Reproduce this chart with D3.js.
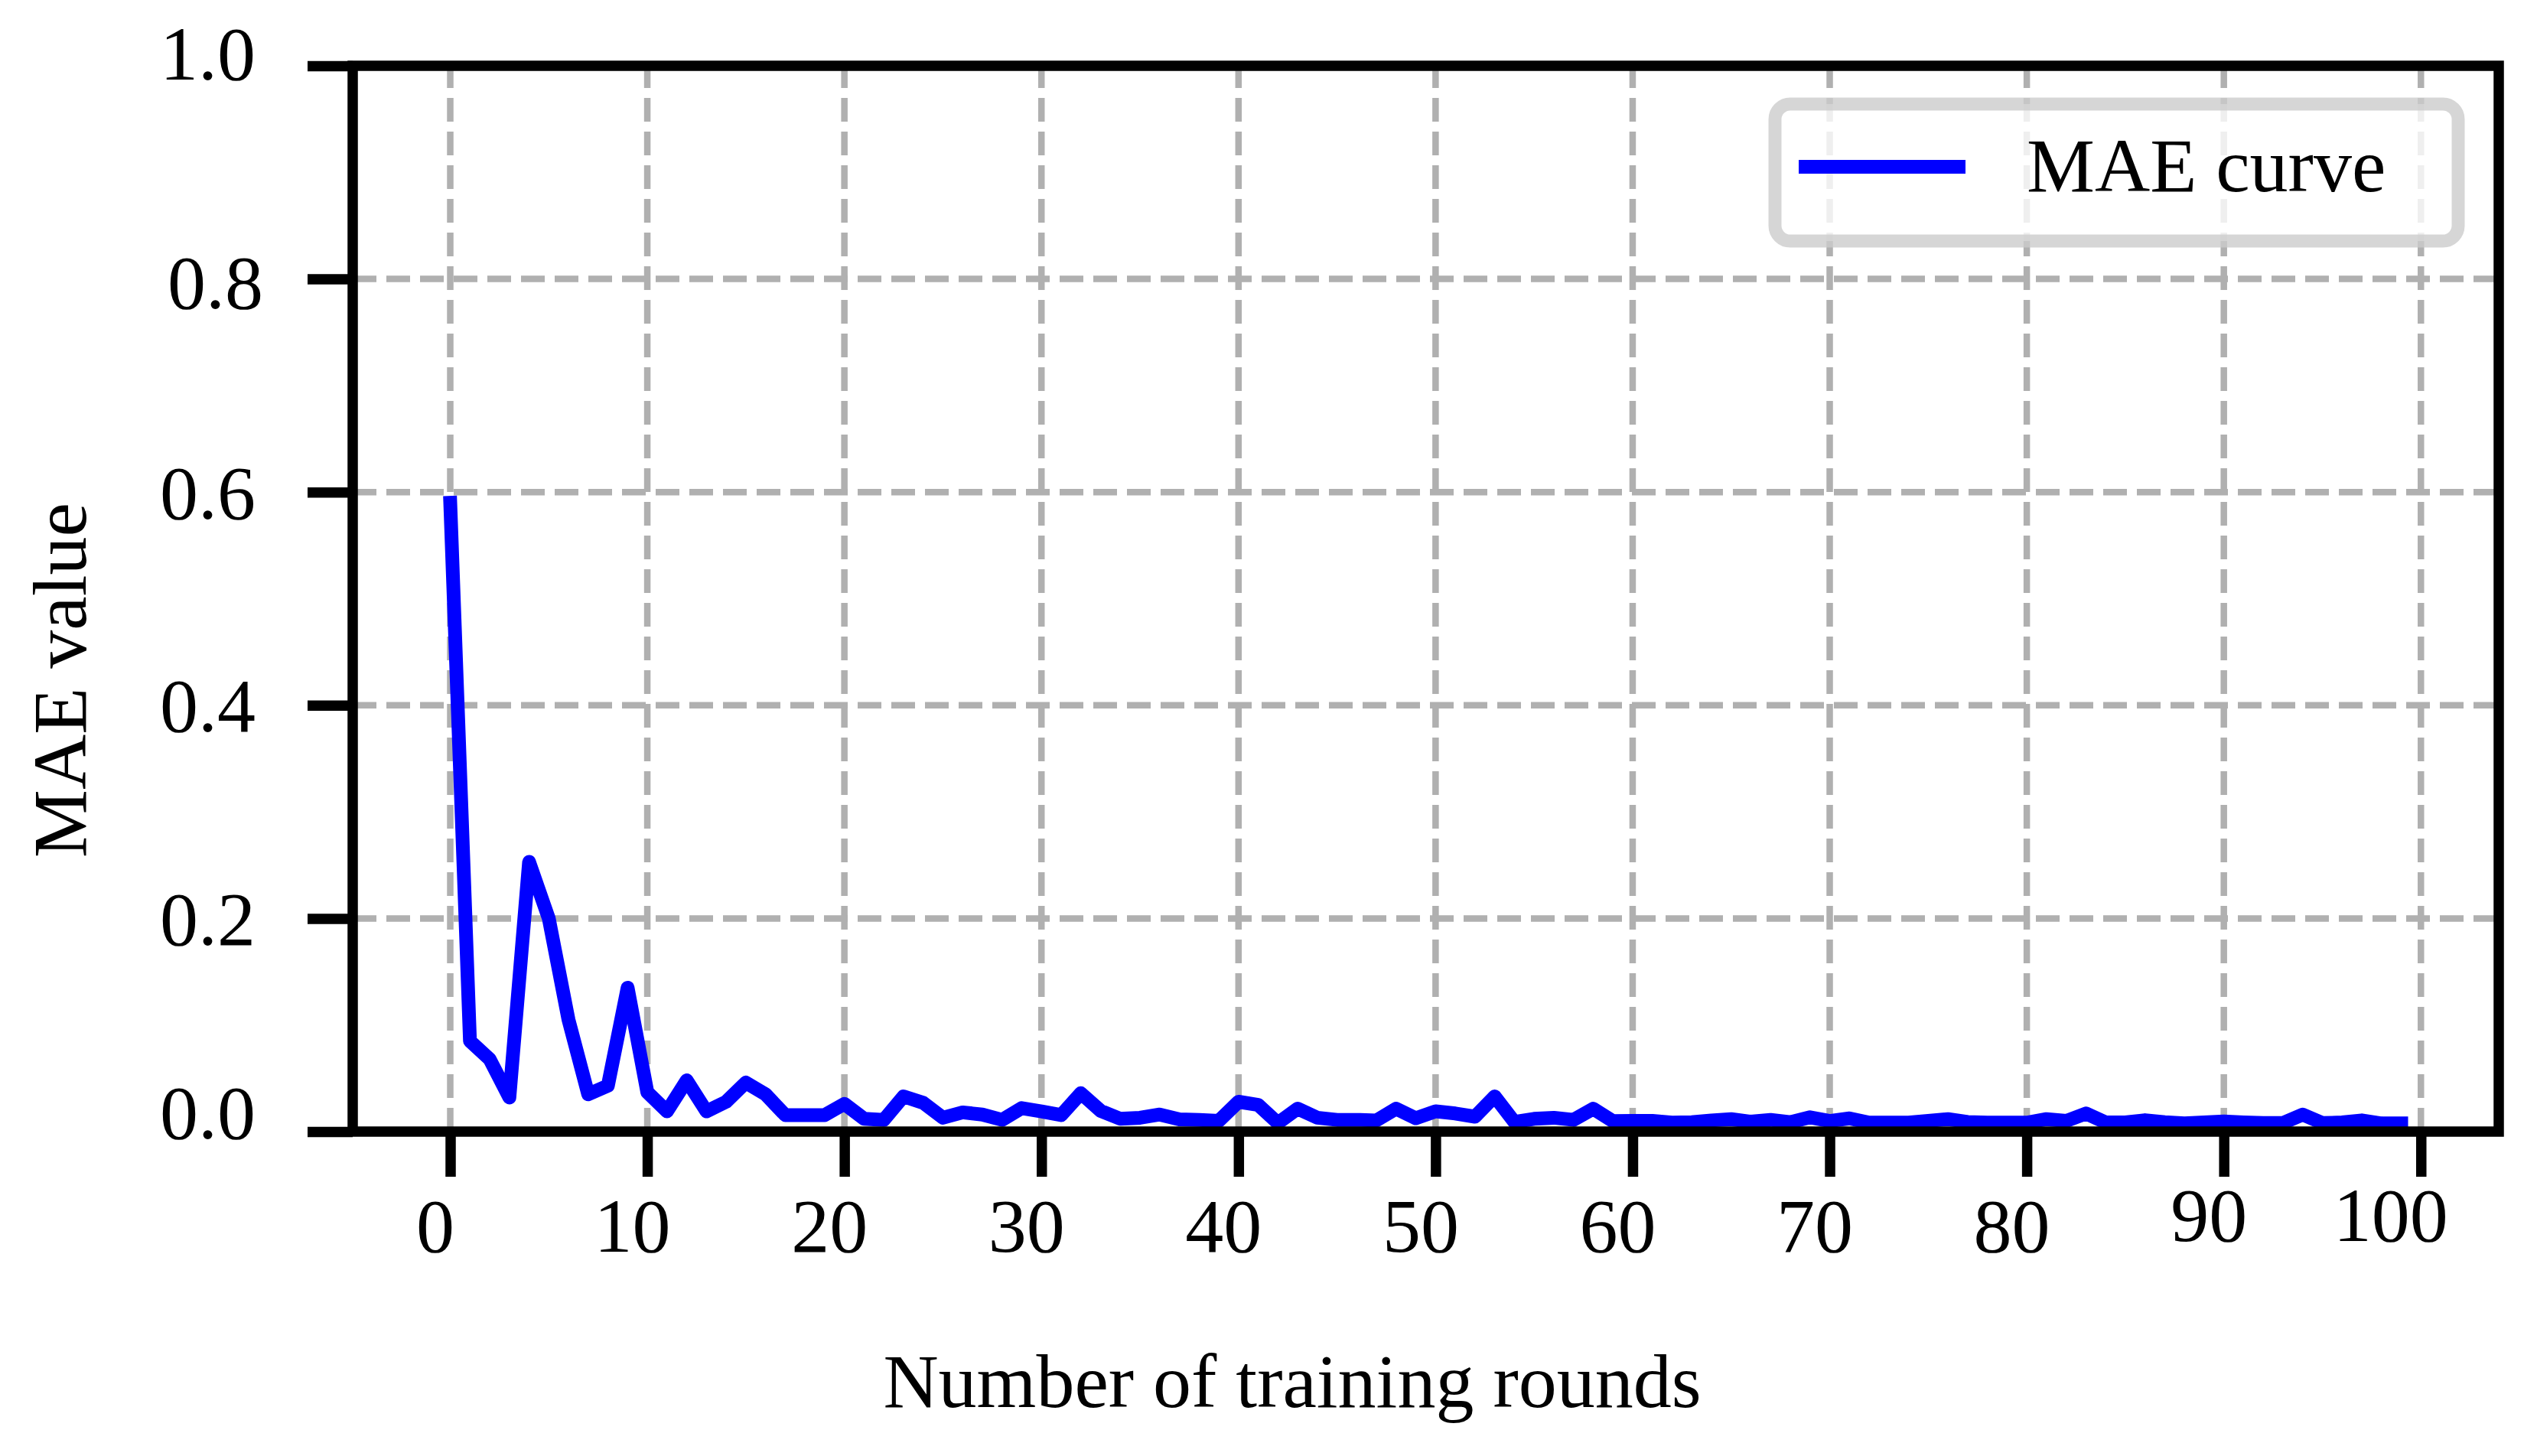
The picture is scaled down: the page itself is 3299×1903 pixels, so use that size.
<!DOCTYPE html>
<html>
<head>
<meta charset="utf-8">
<script src="https://cdn.jsdelivr.net/npm/d3@7"></script>
<style>
  body { margin: 0; background: #fff; }
  svg text { font-family: 'Liberation Serif', 'Times New Roman', serif; fill: #000; }
</style>
</head>
<body>
<svg id="chart" width="3299" height="1903"></svg>
<script>
// MAE per training round (round number = index)
const maeValues = [
  0.590, 0.085, 0.068, 0.032, 0.253, 0.200, 0.105, 0.035, 0.043, 0.135,
  0.037, 0.019, 0.048, 0.019, 0.028, 0.046, 0.035, 0.0155, 0.0155, 0.0155,
  0.026, 0.012, 0.011, 0.033, 0.027, 0.013, 0.018, 0.016, 0.011, 0.022,
  0.019, 0.0155, 0.036, 0.0195, 0.012, 0.013, 0.016, 0.0115, 0.011, 0.010,
  0.028, 0.025, 0.008, 0.0215, 0.013, 0.011, 0.011, 0.0105, 0.0215, 0.0125,
  0.019, 0.017, 0.014, 0.033, 0.009, 0.012, 0.013, 0.011, 0.0215, 0.0098,
  0.010, 0.010, 0.0084, 0.0088, 0.0105, 0.0117, 0.0093, 0.011, 0.0088, 0.0134,
  0.010, 0.0124, 0.0084, 0.0084, 0.0084, 0.010, 0.0117, 0.009, 0.0084, 0.0084,
  0.0084, 0.0117, 0.010, 0.017, 0.0086, 0.0086, 0.0107, 0.0088, 0.0077, 0.0086,
  0.0095, 0.0086, 0.008, 0.008, 0.016, 0.008, 0.0086, 0.0105, 0.0077, 0.0077
];
const xTickValues = [0, 10, 20, 30, 40, 50, 60, 70, 80, 90, 100];
const yTickValues = [0, 0.2, 0.4, 0.6, 0.8, 1.0];
const yTickLabels = ['0.0', '0.2', '0.4', '0.6', '0.8', '1.0'];
const seriesName = 'MAE curve';
const xTitle = 'Number of training rounds';
const yTitle = 'MAE value';

const box = { left: 461, right: 3266, top: 86, bottom: 1479 };
const n = maeValues.length;
const pad = (n - 1) * 0.05;

const x = d3.scaleLinear().domain([-pad, n - 1 + pad]).range([box.left, box.right]);
const y = d3.scaleLinear().domain([0, 1]).range([box.bottom, box.top]);

const svg = d3.select('#chart');
svg.append('rect').attr('width', 3299).attr('height', 1903).attr('fill', '#fff');

// Grid
const grid = svg.append('g')
  .attr('stroke', '#b0b0b0')
  .attr('stroke-width', 8.5)
  .attr('stroke-dasharray', '31 13');
grid.selectAll('line.gx').data(xTickValues).join('line')
  .attr('class', 'gx')
  .attr('x1', d => x(d)).attr('x2', d => x(d))
  .attr('y1', box.bottom).attr('y2', box.top);
grid.selectAll('line.gy').data(yTickValues).join('line')
  .attr('class', 'gy')
  .attr('x1', box.left).attr('x2', box.right)
  .attr('y1', d => y(d)).attr('y2', d => y(d));

// Curve
svg.append('path')
  .datum(maeValues)
  .attr('fill', 'none')
  .attr('stroke', '#0000ff')
  .attr('stroke-width', 18)
  .attr('stroke-linejoin', 'round')
  .attr('stroke-linecap', 'square')
  .attr('d', d3.line().x((d, i) => x(i)).y(d => y(d)));

// Spines
svg.append('rect')
  .attr('x', box.left).attr('y', box.top)
  .attr('width', box.right - box.left).attr('height', box.bottom - box.top)
  .attr('fill', 'none')
  .attr('stroke', '#000')
  .attr('stroke-width', 13.5);

// X axis
const xAxis = svg.append('g')
  .attr('transform', `translate(0,${box.bottom})`)
  .call(d3.axisBottom(x).tickValues(xTickValues).tickSize(59).tickFormat(d3.format('d')));
xAxis.select('.domain').remove();
xAxis.selectAll('.tick line').attr('stroke', '#000').attr('stroke-width', 13.5);
xAxis.selectAll('.tick text')
  .attr('fill', '#000')
  .attr('font-size', 100)
  .attr('x', d => d === 100 ? -40 : -20)
  .attr('dy', null)
  .attr('y', d => d >= 90 ? 143 : 157);

// Y axis
const yAxis = svg.append('g')
  .attr('transform', `translate(${box.left},0)`)
  .call(d3.axisLeft(y).tickValues(yTickValues).tickSize(59).tickFormat((d, i) => yTickLabels[i]));
yAxis.select('.domain').remove();
yAxis.selectAll('.tick line').attr('stroke', '#000').attr('stroke-width', 13.5);
yAxis.selectAll('.tick text')
  .attr('fill', '#000')
  .attr('font-size', 100)
  .attr('text-anchor', 'end')
  .attr('dy', null)
  .attr('x', d => d === 0.8 ? -117 : -127)
  .attr('y', d => d === 1 ? 17 : d === 0 ? 8 : d === 0.8 ? 38 : 34);

// Axis titles
svg.append('text')
  .attr('x', 1689).attr('y', 1839)
  .attr('text-anchor', 'middle')
  .attr('font-size', 100)
  .text(xTitle);
svg.append('text')
  .attr('transform', 'translate(112,889) rotate(-90)')
  .attr('text-anchor', 'middle')
  .attr('font-size', 100)
  .text(yTitle);

// Legend
const legend = svg.append('g');
legend.append('rect')
  .attr('x', 2320).attr('y', 136)
  .attr('width', 893).attr('height', 179)
  .attr('rx', 20).attr('ry', 20)
  .attr('fill', '#fff').attr('fill-opacity', 0.8)
  .attr('stroke', '#cccccc').attr('stroke-opacity', 0.8)
  .attr('stroke-width', 17);
legend.append('line')
  .attr('x1', 2351).attr('x2', 2569)
  .attr('y1', 218).attr('y2', 218)
  .attr('stroke', '#0000ff')
  .attr('stroke-width', 18);
legend.append('text')
  .attr('x', 2649).attr('y', 250)
  .attr('font-size', 100)
  .text(seriesName);
</script>
</body>
</html>
